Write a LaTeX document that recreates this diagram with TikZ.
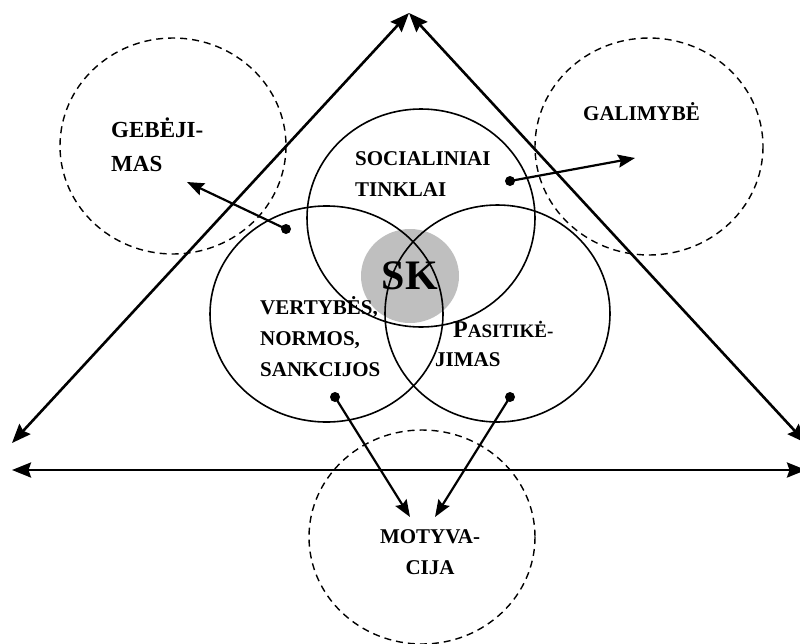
\documentclass[tikz,border=0pt]{standalone}
\usepackage{fontspec}
\setmainfont{Liberation Serif}
\usetikzlibrary{arrows.meta}
\begin{document}
\begin{tikzpicture}[x=1pt,y=-1pt,
  bigline/.style={line width=2.6pt},
  venn/.style={line width=1.6pt},
  dashcirc/.style={line width=1.4pt, dash pattern=on 7pt off 5pt},
  twohead/.style={{Stealth[length=19pt,width=15pt,inset=2.5pt]}-{Stealth[length=19pt,width=15pt,inset=2.5pt]}},
  dotarrow/.style={line width=2.2pt,-{Stealth[length=17pt,width=13pt,inset=2.5pt]}},
  dot/.style={circle,fill=black,inner sep=0pt,minimum size=10pt},
  lbl/.style={font=\bfseries\fontsize{21}{31}\selectfont, align=left, inner sep=0pt, anchor=west}
]
\useasboundingbox (0,0) rectangle (800,643);

% shaded core
\fill[black!25] (410,276) ellipse [x radius=49, y radius=47];

% dashed outer circles
\draw[dashcirc] (173,146) ellipse [x radius=113, y radius=108];
\draw[dashcirc] (649,146.5) ellipse [x radius=114, y radius=108.5];
\draw[dashcirc] (422,537) ellipse [x radius=113, y radius=107];

% Venn circles
\draw[venn] (421,218) ellipse [x radius=114, y radius=109];
\draw[venn] (326.5,314) ellipse [x radius=116.5, y radius=108];
\draw[venn] (497.5,313.5) ellipse [x radius=112.5, y radius=108.5];

% triangle and base line
\coordinate (apex) at (409,13);
\coordinate (lefttip) at (12,443);
\coordinate (righttip) at (806,443);
\coordinate (baseL) at (12,470);
\coordinate (baseR) at (806,470);
\draw[bigline,twohead] (lefttip) -- (apex);
\draw[bigline,twohead] (righttip) -- (apex);
\draw[bigline,twohead] (baseL) -- (baseR);

% labels
\node[lbl] (sk) at (410,276) [anchor=center] {\fontsize{42}{42}\selectfont SK};
\node[lbl,font=\bfseries\fontsize{23}{34}\selectfont] (geb) at (111,145) {GEBĖJI-\\MAS};
\node[lbl] (gal) at (583,112) {GALIMYBĖ};
\node[lbl] (soc) at (355,174) {SOCIALINIAI\\TINKLAI};
\node[lbl] (ver) at (260,337) {VERTYBĖS,\\NORMOS,\\SANKCIJOS};
\node[lbl] (pas1) at (453,329) {{\fontsize{24}{24}\selectfont P}{\fontsize{19}{19}\selectfont ASITIKĖ-}};
\node[lbl] (pas2) at (435,360) {JIMAS};
\node[lbl,align=center,anchor=center] (mot) at (430,552) {MOTYVA-\\CIJA};

% dot arrows
\node[dot] (d1) at (286,229) {};
\coordinate (t1) at (187,182);
\node[dot] (d2) at (510,181) {};
\coordinate (t2) at (635,158);
\node[dot] (d3) at (335,397) {};
\coordinate (t3) at (410,517);
\node[dot] (d4) at (510,397) {};
\coordinate (t4) at (435,517);
\draw[dotarrow] (d1.center) -- (t1);
\draw[dotarrow] (d2.center) -- (t2);
\draw[dotarrow] (d3.center) -- (t3);
\draw[dotarrow] (d4.center) -- (t4);
\end{tikzpicture}
\end{document}
